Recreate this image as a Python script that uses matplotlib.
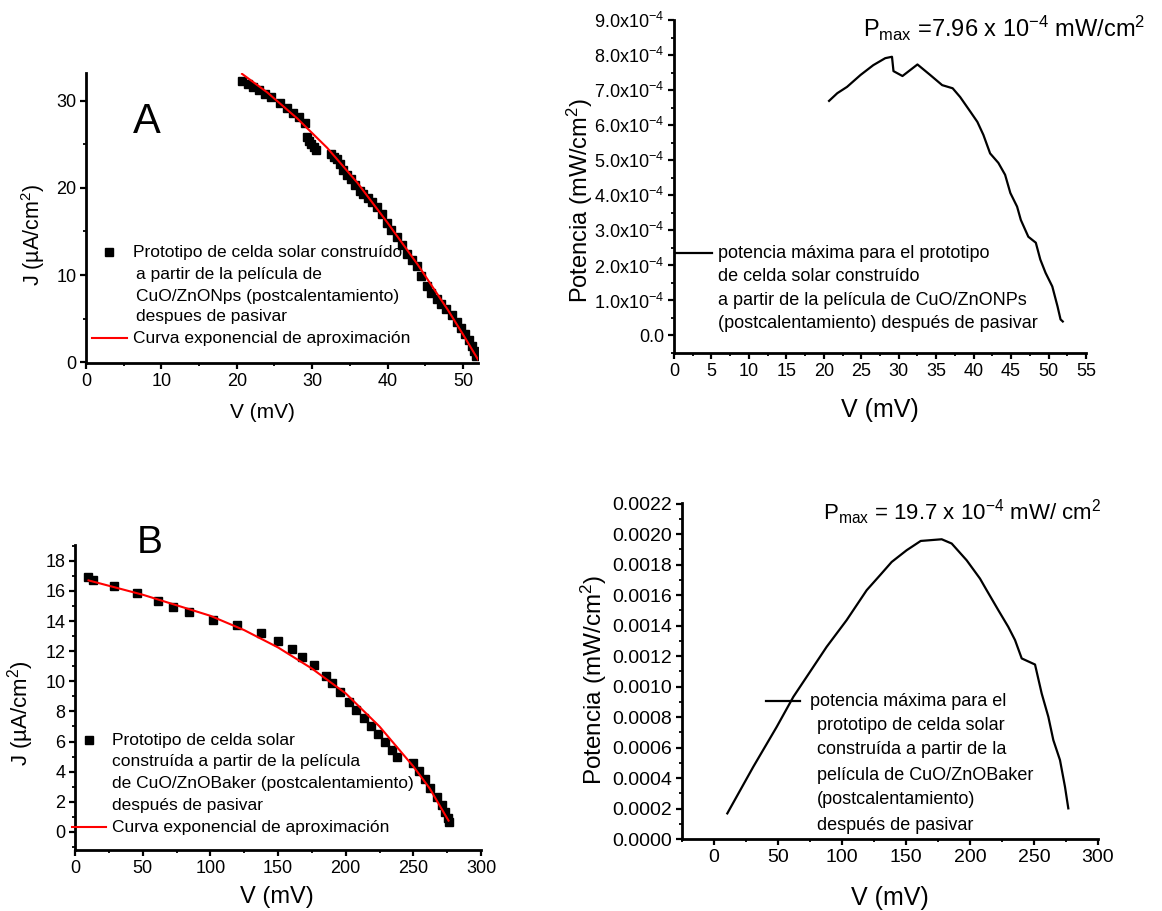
import matplotlib
matplotlib.use("Agg")
import matplotlib.pyplot as plt
from matplotlib.lines import Line2D
from matplotlib.ticker import MultipleLocator, FuncFormatter

plt.rcParams.update({"font.family": "Liberation Sans", "mathtext.fontset": "custom",
                     "mathtext.rm": "Liberation Sans", "mathtext.it": "Liberation Sans:italic",
                     "mathtext.bf": "Liberation Sans:bold", "axes.linewidth": 2.0})

# ---- panel A: J-V, CuO/ZnONps ----
a_v = [20.7, 21.5, 22.2, 23.0, 23.7, 24.6, 25.7, 26.6, 27.5, 28.2, 29.0, 29.3, 29.6, 29.9,
       30.2, 30.5, 32.5, 32.9, 33.3, 33.7, 34.1, 34.6, 35.2, 35.7, 36.3, 36.8, 37.4, 38.0,
       38.6, 39.2, 39.9, 40.5, 41.2, 41.9, 42.6, 43.2, 43.9, 44.5, 45.2, 45.8, 46.5, 47.1,
       47.8, 48.5, 49.2, 49.7, 50.3, 50.8, 51.2, 51.5, 51.8]
a_j = [32.3, 31.9, 31.6, 31.2, 30.8, 30.4, 29.8, 29.2, 28.6, 28.1, 27.5, 25.8, 25.4, 25.0,
       24.7, 24.4, 23.9, 23.6, 23.3, 22.7, 22.1, 21.5, 21.0, 20.3, 19.6, 19.3, 18.9, 18.4,
       17.8, 17.0, 16.0, 15.2, 14.4, 13.4, 12.4, 11.7, 11.0, 9.9, 8.7, 7.9, 7.2, 6.7,
       6.1, 5.4, 4.6, 3.9, 3.2, 2.5, 1.9, 1.3, 0.7]
a_fit_v = [20.7, 24.0, 28.0, 32.0, 36.0, 40.0, 44.0, 48.0, 50.0, 52.0]
a_fit_j = [33.1, 31.0, 28.0, 24.6, 20.6, 16.0, 11.2, 6.0, 3.2, 0.3]

# ---- panel B: power, CuO/ZnONps ----
b_v = [20.7, 21.8, 23.1, 24.9, 26.6, 28.2, 29.1, 29.3, 30.5, 32.5, 34.2, 35.8, 37.2, 38.2,
       39.6, 40.5, 41.3, 42.2, 43.3, 44.2, 44.9, 45.8, 46.3, 47.3, 48.3, 48.9, 49.6, 50.5,
       51.2, 51.6, 51.9]
b_p = [6.70, 6.92, 7.10, 7.44, 7.72, 7.92, 7.96, 7.55, 7.41, 7.74, 7.44, 7.15, 7.06, 6.81,
       6.38, 6.10, 5.73, 5.20, 4.93, 4.59, 4.07, 3.68, 3.30, 2.82, 2.65, 2.17, 1.79, 1.40,
       0.83, 0.46, 0.40]  # x1e-4 mW/cm2

# ---- panel C: J-V, CuO/ZnOBaker ----
c_v = [9.8, 13.4, 28.8, 46.0, 61.1, 72.1, 84.5, 102.1, 119.7, 137.6, 149.8, 160.3, 168.1,
       176.7, 185.2, 190.1, 195.7, 202.3, 208.0, 213.3, 218.7, 223.6, 229.2, 234.1, 237.8,
       250.0, 254.0, 258.3, 262.6, 267.2, 271.0, 273.4, 275.3, 276.3]
c_j = [16.9, 16.7, 16.35, 15.85, 15.3, 14.96, 14.6, 14.08, 13.72, 13.18, 12.68, 12.13, 11.64,
       11.09, 10.36, 9.87, 9.32, 8.65, 8.1, 7.59, 7.06, 6.5, 6.0, 5.45, 4.96,
       4.6, 4.07, 3.5, 2.9, 2.35, 1.79, 1.35, 0.9, 0.68]
c_fit_v = [10.0, 50.0, 100.0, 125.0, 150.0, 175.0, 200.0, 225.0, 250.0, 262.0, 276.0]
c_fit_j = [16.7, 15.75, 14.35, 13.4, 12.25, 10.85, 9.2, 7.0, 4.35, 2.9, 0.75]

# ---- panel D: power, CuO/ZnOBaker ----
d_v = [10.4, 30.7, 49.0, 62.0, 75.0, 88.0, 103.6, 119.3, 129.7, 138.8, 150.5, 161.5, 177.9,
       185.7, 197.4, 207.8, 213.0, 222.1, 229.9, 235.2, 240.4, 250.8, 256.0, 261.2, 265.1,
       270.3, 274.2, 276.8]
d_p = [0.000168, 0.000474, 0.000736, 0.000933, 0.001097, 0.001261, 0.001436, 0.001633,
       0.001731, 0.001818, 0.001895, 0.001956, 0.001967, 0.001939, 0.001829, 0.001709,
       0.001633, 0.001502, 0.001392, 0.001305, 0.001185, 0.001145, 0.000955, 0.000802,
       0.000649, 0.000518, 0.000343, 0.000201]

W, H = 1162, 911
fig = plt.figure(figsize=(W / 100, H / 100), dpi=100)

def box(l, t, r, b):
    return [l / W, 1 - b / H, (r - l) / W, (b - t) / H]

def P(x, y):
    return x / W, 1 - y / H

def style(ax, xmaj, xmin, ymaj, ymin, fs):
    for s in ("top", "right"):
        ax.spines[s].set_visible(False)
    ax.xaxis.set_major_locator(MultipleLocator(xmaj)); ax.xaxis.set_minor_locator(MultipleLocator(xmin))
    ax.yaxis.set_major_locator(MultipleLocator(ymaj)); ax.yaxis.set_minor_locator(MultipleLocator(ymin))
    ax.tick_params(which="major", direction="out", length=4, width=1.6, labelsize=fs, pad=3)
    ax.tick_params(which="minor", direction="out", length=2.5, width=1.3)

def line_text(x, y, s, fs):
    fig.text(*P(x, y), s, fontsize=fs, ha="left", va="center")

# ---------------- A ----------------
ax = fig.add_axes(box(86, 73, 478, 363))
ax.plot(a_v, a_j, ls="none", marker="s", ms=6, color="black", zorder=2)
ax.plot(a_fit_v, a_fit_j, color="red", lw=1.5, zorder=3)
ax.set_xlim(0, 52); ax.set_ylim(-0.1, 33.2)
style(ax, 10, 5, 10, 5, 13)
ax.set_xlabel("V (mV)", fontsize=15, va="center"); ax.xaxis.set_label_coords(0.449, -0.169)
ax.set_ylabel("J (µA/cm$^2$)", fontsize=15.5, va="center"); ax.yaxis.set_label_coords(-0.135, 0.441)
fig.text(*P(133, 133), "A", fontsize=30, va="baseline")
fig.add_artist(Line2D([109 / W], [1 - 252 / H], marker="s", ms=6, color="black", ls="none"))
fig.add_artist(Line2D([92 / W, 127 / W], [1 - 338 / H] * 2, color="red", lw=1.5))
line_text(133, 252, "Prototipo de celda solar construído", 12.5)
line_text(136, 274, "a partir de la película de", 12.5)
line_text(136, 296, "CuO/ZnONps (postcalentamiento)", 12.5)
line_text(136, 317, "despues de pasivar", 12.5)
line_text(133, 338, "Curva exponencial de aproximación", 12.5)

# ---------------- B ----------------
ax = fig.add_axes(box(674, 20, 1086, 353))
ax.plot(b_v, [p * 1e-4 for p in b_p], color="black", lw=1.6)
ax.set_xlim(0, 55); ax.set_ylim(-0.5e-4, 9.01e-4)
style(ax, 5, 2.5, 1e-4, 0.5e-4, 13)
ax.yaxis.set_major_formatter(FuncFormatter(
    lambda v, pos: "0.0" if abs(v) < 1e-9 else f"{v * 1e4:.1f}x10$^{{-4}}$"))
ax.set_xlabel("V (mV)", fontsize=18, va="center"); ax.xaxis.set_label_coords(0.5, -0.171)
ax.set_ylabel("Potencia (mW/cm$^2$)", fontsize=17, va="center"); ax.yaxis.set_label_coords(-0.228, 0.459)
fig.text(*P(863, 37), r"P$_{\rm max}$ =7.96 x 10$^{-4}$ mW/cm$^2$", fontsize=17, va="baseline")
fig.add_artist(Line2D([675 / W, 712 / W], [1 - 253 / H] * 2, color="black", lw=1.6))
for i, s in enumerate(["potencia máxima para el prototipo", "de celda solar construído",
                       "a partir de la película de CuO/ZnONPs",
                       "(postcalentamiento) después de pasivar"]):
    line_text(718, 253 + 23.5 * i, s, 13)

# ---------------- C ----------------
ax = fig.add_axes(box(75, 545, 481, 850))
ax.plot(c_v, c_j, ls="none", marker="s", ms=5.5, color="black", zorder=2)
ax.plot(c_fit_v, c_fit_j, color="red", lw=1.5, zorder=3)
ax.set_xlim(0, 300); ax.set_ylim(-1.2, 19.05)
style(ax, 50, 25, 2, 1, 13)
ax.set_xlabel("V (mV)", fontsize=17, va="center"); ax.xaxis.set_label_coords(0.497, -0.154)
ax.set_ylabel("J (µA/cm$^2$)", fontsize=16, va="center"); ax.yaxis.set_label_coords(-0.135, 0.449)
fig.text(*P(137, 553), "B", fontsize=28, va="baseline")
fig.add_artist(Line2D([89 / W], [1 - 740 / H], marker="s", ms=5.5, color="black", ls="none"))
fig.add_artist(Line2D([72 / W, 106 / W], [1 - 827 / H] * 2, color="red", lw=1.5))
for i, s in enumerate(["Prototipo de celda solar", "construída a partir de la película",
                       "de CuO/ZnOBaker (postcalentamiento)", "después de pasivar",
                       "Curva exponencial de aproximación"]):
    line_text(112, 740 + 21.8 * i, s, 12.5)

# ---------------- D ----------------
ax = fig.add_axes(box(682, 503, 1098, 839))
ax.plot(d_v, d_p, color="black", lw=1.6)
ax.set_xlim(-25, 300); ax.set_ylim(0, 0.002205)
style(ax, 50, 25, 0.0002, 0.0001, 14)
ax.yaxis.set_major_formatter(FuncFormatter(lambda v, pos: f"{v:.4f}"))
ax.set_xlabel("V (mV)", fontsize=18, va="center"); ax.xaxis.set_label_coords(0.5, -0.176)
ax.set_ylabel("Potencia (mW/cm$^2$)", fontsize=17.5, va="center"); ax.yaxis.set_label_coords(-0.212, 0.473)
fig.text(*P(823, 520), r"P$_{\rm max}$ = 19.7 x 10$^{-4}$ mW/ cm$^2$", fontsize=16, va="baseline")
fig.add_artist(Line2D([766 / W, 800 / W], [1 - 701 / H] * 2, color="black", lw=1.6))
line_text(810, 701, "potencia máxima para el", 13)
for i, s in enumerate(["prototipo de celda solar", "construída a partir de la",
                       "película de CuO/ZnOBaker", "(postcalentamiento)", "después de pasivar"]):
    line_text(817, 725 + 25 * i, s, 13)

fig.savefig("out.png", dpi=100)
